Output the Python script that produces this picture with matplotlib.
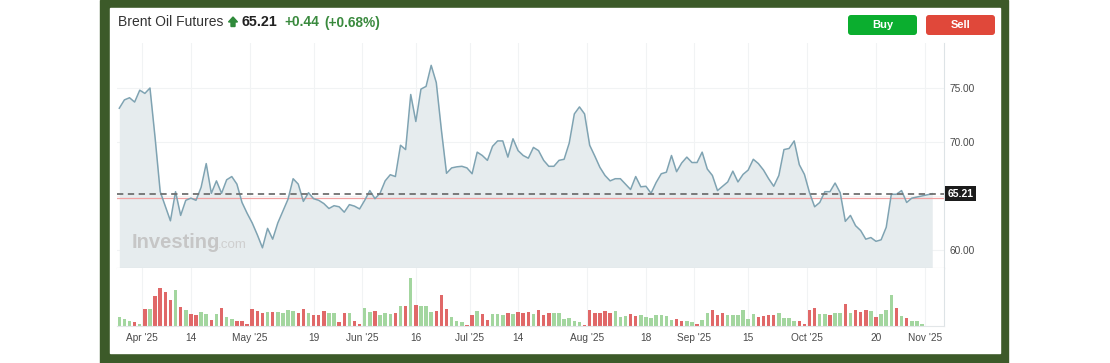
import numpy as np
import matplotlib
matplotlib.use("Agg")
import matplotlib.pyplot as plt
from matplotlib.patches import Rectangle, FancyBboxPatch, Polygon
from matplotlib.ticker import FuncFormatter

plt.rcParams['font.family'] = ['Liberation Sans', 'DejaVu Sans']

# Brent front-month daily closes (USD/bbl), late Mar -> early Nov 2025
closes = [
    73.13, 73.9, 74.1, 73.7, 74.8, 74.5, 75.0, 70.4, 65.4, 64.06,
    62.7, 65.4, 63.2, 64.6, 64.8, 64.6, 65.8, 68.0, 65.25, 66.4,
    65.25, 66.5, 66.8, 66.1, 64.4, 63.4, 62.5, 61.4, 60.2, 62.0,
    61.0, 62.5, 63.6, 64.7, 66.6, 66.1, 64.5, 65.3, 64.75, 64.6,
    64.3, 63.84, 64.1, 64.0, 63.5, 64.2, 64.06, 63.8, 64.6, 65.5,
    64.75, 65.25, 66.4, 66.97, 66.8, 69.7, 69.3, 74.4, 71.9, 74.9,
    75.15, 77.1, 75.5, 71.1, 67.1, 67.6, 67.7, 67.75, 67.6, 67.06,
    69.06, 68.75, 68.3, 69.6, 70.1, 70.1, 68.6, 70.3, 69.2, 68.75,
    68.5, 69.5, 69.2, 68.3, 67.75, 67.75, 68.3, 68.4, 69.9, 72.6,
    73.25, 72.6, 69.7, 68.7, 67.65, 66.9, 66.4, 66.6, 66.6, 66.1,
    65.6, 66.8, 65.85, 65.9, 65.25, 66.25, 67.06, 67.2, 68.75, 67.25,
    68.06, 68.6, 68.1, 68.1, 69.06, 67.5, 66.9, 65.5, 65.9, 66.3,
    67.3, 66.3, 67.0, 67.4, 68.4, 68.0, 67.4, 66.6, 65.9, 66.9,
    69.3, 69.4, 70.1, 67.9, 67.0, 65.3, 64.0, 64.4, 65.4, 65.4,
    66.2, 65.3, 62.65, 63.2, 62.25, 61.8, 61.0, 61.15, 60.8, 60.94,
    62.1, 65.16, 65.16, 65.5, 64.4, 64.8, 64.9, 65.0, 65.1, 65.21,
]

# daily volume (relative units) and bar direction (G = up, R = down)
volumes = [
    27, 20, 14, 12, 5, 52, 52, 89, 114, 101,
    79, 108, 57, 47, 35, 32, 42, 35, 19, 37,
    55, 26, 21, 16, 14, 5, 52, 45, 39, 43,
    43, 42, 40, 49, 44, 39, 52, 39, 32, 32,
    45, 40, 39, 11, 40, 39, 14, 5, 55, 42,
    45, 32, 39, 35, 40, 59, 60, 145, 63, 60,
    61, 42, 44, 92, 52, 27, 14, 11, 4, 32,
    44, 37, 19, 36, 35, 34, 40, 36, 42, 38,
    42, 36, 47, 34, 39, 39, 40, 20, 24, 16,
    11, 4, 49, 39, 40, 46, 38, 44, 27, 29,
    37, 31, 32, 26, 24, 32, 32, 31, 17, 22,
    15, 15, 13, 5, 18, 40, 47, 34, 40, 34,
    33, 34, 47, 22, 37, 27, 29, 32, 32, 40,
    25, 24, 14, 14, 5, 49, 54, 37, 35, 34,
    39, 39, 65, 39, 49, 42, 49, 44, 27, 37,
    49, 94, 54, 29, 25, 14, 14, 5, 0, 0,
]
direction = (
    "GGGRGRGRRR" "RGRGRRGGRG" "RGGRRRRRRG" "RGGGGRRGRR"
    "RGGRRGRRGG" "RGGGRGRGRG" "GGRRRGGGRR" "GRRGGGRGRR"
    "RGRRRGGGGG" "GRRRRRRGGG" "RRGGGGGGGR" "RGGRGGRRRG"
    "GGGGGRRRRG" "GGGRRRRGGR" "GGRGRRRGRG" "GGRGRGGGGG"
)

last_price = 65.21
prev_close = 64.77
change_abs = "+0.44"
change_pct = "(+0.68%)"
price_ticks = [60, 65, 70, 75]

# date ticks (position in trading days) and their labels
tick_pos = [4.5, 14, 25.5, 38, 47.5, 58, 68.5, 78, 91.5, 103, 112.5, 123, 134.5, 148, 157.5]
tick_lbl = ["Apr '25", "14", "May '25", "19", "Jun '25", "16", "Jul '25", "14",
            "Aug '25", "18", "Sep '25", "15", "Oct '25", "20", "Nov '25"]

W, H = 1110, 363
GRID = '#f1f3f4'
TXT = '#4a4a4a'


def px_box(x0, y0, x1, y1):
    # pixel rectangle (top-left origin) -> figure fraction
    return [x0 / W, 1 - y1 / H, (x1 - x0) / W, (y1 - y0) / H]


fig = plt.figure(figsize=(W / 100, H / 100), dpi=100)

# background frame, header and buttons drawn in pixel space
bg = fig.add_axes([0, 0, 1, 1])
bg.set_xlim(0, W)
bg.set_ylim(H, 0)
bg.axis('off')
bg.add_patch(Rectangle((100, 0), 908, 363, color='#3c5a29'))
bg.add_patch(Rectangle((110, 8), 890, 345, color='white'))

bg.text(118, 22.5, 'Brent Oil Futures', fontsize=10, color='#333333', va='center')
bg.add_patch(Polygon([(228.5, 22), (233, 17), (237.5, 22), (235, 22), (235, 26.5),
                      (231, 26.5), (231, 22)], closed=True, color='#2f8a3b'))
bg.text(242, 22.5, f'{last_price:.2f}', fontsize=10.3, weight='bold', color='#222222', va='center')
bg.text(284, 22.5, change_abs, fontsize=9.9, weight='bold', color='#3a8a3e', va='center')
bg.text(324, 22.5, change_pct, fontsize=9.9, weight='bold', color='#3a8a3e', va='center')

for x0, label, col in [(848, 'Buy', '#0bae2f'), (926, 'Sell', '#e0483a')]:
    bg.add_patch(FancyBboxPatch((x0, 15), 69, 20, boxstyle='round,pad=0,rounding_size=3',
                                fc=col, ec='none'))
    bg.text(x0 + 34.5, 25.5, label, fontsize=8, weight='bold', color='white',
            ha='center', va='center')

x = np.arange(len(closes))
xlim = (-0.45, 161.3)

# price panel
ax = fig.add_axes(px_box(117, 43, 944, 268))
ax.fill_between(x, closes, 50, color='#e6ecee', lw=0, zorder=1)
ax.plot(x, closes, color='#7fa3b2', lw=1.1, zorder=3)
ax.axhline(prev_close, color='#f2a3a3', lw=0.9, zorder=2)
ax.axhline(last_price, color='#707070', lw=1.3, ls=(0, (3.5, 2.5)), zorder=4)
ax.set_xlim(*xlim)
ax.set_ylim(58.33, 79.17)
ax.set_yticks(price_ticks)
ax.yaxis.set_major_formatter(
    FuncFormatter(lambda v, p: '' if abs(v - last_price) < 1 else f'{v:.2f}'))
ax.yaxis.tick_right()
ax.tick_params(axis='y', length=0, pad=4, labelsize=7.3, labelcolor=TXT)
ax.set_xticks(tick_pos)
ax.tick_params(axis='x', length=0, labelbottom=False)
ax.grid(color=GRID, lw=0.8, zorder=0)
ax.set_axisbelow(True)
for side in ['top', 'left']:
    ax.spines[side].set_visible(False)
ax.spines['right'].set_color('#dde3e6')
ax.spines['bottom'].set_color('#cdd3d5')

ax.text(132, 247.7, 'Investing', transform=bg.transData, fontsize=14.5, weight='bold',
        color='#c6c6c6', va='baseline', zorder=5)
ax.text(218, 247.7, '.com', transform=bg.transData, fontsize=9.6,
        color='#cfcfcf', va='baseline', zorder=5)

# last price tag on the axis
ax.text(1.004, last_price, f'{last_price:.2f}', transform=ax.get_yaxis_transform(),
        fontsize=7.5, weight='bold', color='white', va='center', ha='left',
        bbox=dict(boxstyle='square,pad=0.25', fc='#1b1b1b', ec='none'), clip_on=False)

# volume panel
vax = fig.add_axes(px_box(117, 268, 944, 326))
bar_cols = ['#a3d69f' if d == 'G' else '#e06868' for d in direction]
vax.bar(x, volumes, width=0.68, color=bar_cols, zorder=2)
vax.set_xlim(*xlim)
vax.set_ylim(0, 174)
vax.set_yticks([])
vax.set_xticks(tick_pos)
vax.set_xticklabels(tick_lbl)
vax.tick_params(axis='x', length=0, pad=5, labelsize=7.3, labelcolor=TXT)
vax.grid(axis='x', color=GRID, lw=0.8, zorder=0)
vax.set_axisbelow(True)
for side in ['top', 'left']:
    vax.spines[side].set_visible(False)
vax.spines['right'].set_color('#dde3e6')
vax.spines['bottom'].set_color('#e2e6e8')

fig.savefig('out.png', dpi=100)
